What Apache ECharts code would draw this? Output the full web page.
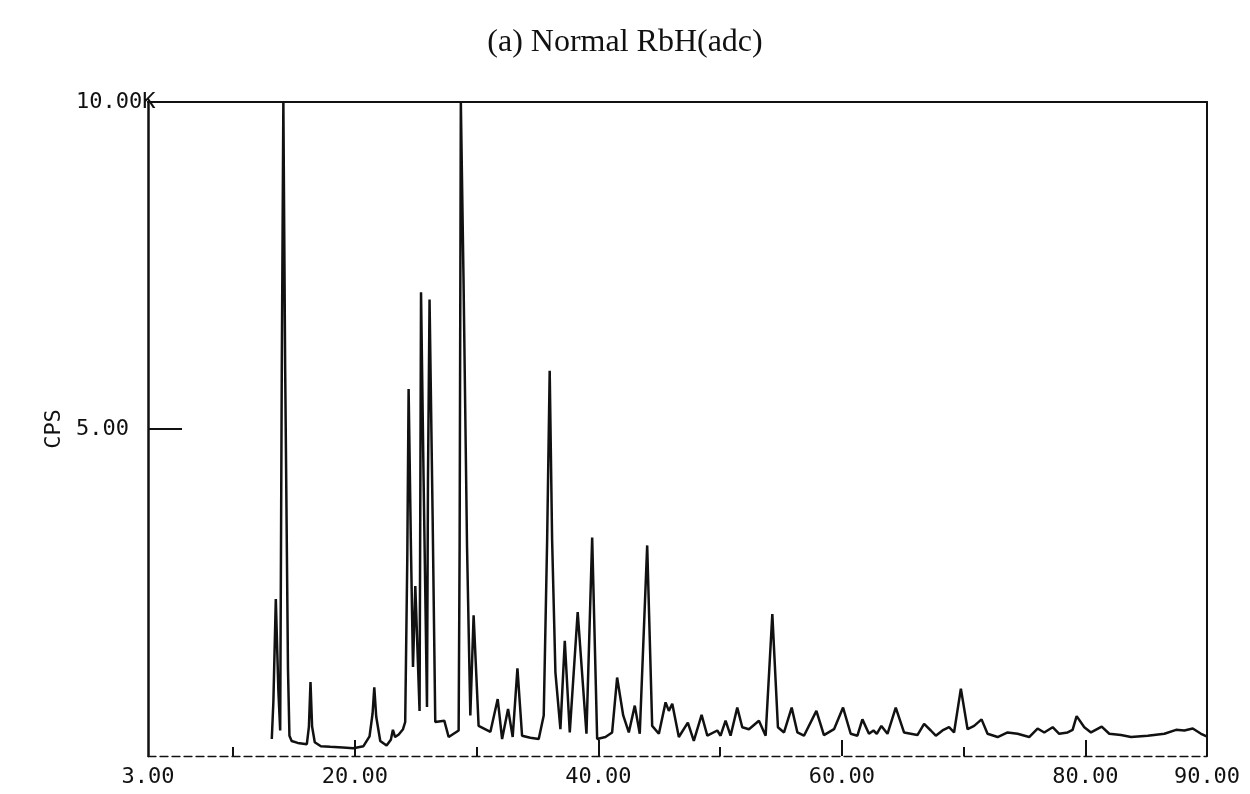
<!DOCTYPE html>
<html>
<head>
<meta charset="utf-8">
<title>(a) Normal RbH(adc)</title>
<script src="https://cdn.jsdelivr.net/npm/echarts@6/dist/echarts.min.js"></script>
<style>
  html, body { margin: 0; padding: 0; background: #fff; }
  #chart { width: 1250px; height: 794px; }
</style>
</head>
<body>
<div id="chart"></div>
<script>
// Powder diffraction trace: 2-theta (degrees) and counts per second
const twoTheta = [
  13.17, 13.30, 13.50, 13.71, 13.86, 13.99, 14.12, 14.27, 14.50, 14.62, 14.80, 15.30,
  16.05, 16.22, 16.35, 16.48, 16.70, 17.20, 17.97, 19.00, 19.86, 20.70, 21.20, 21.45,
  21.59, 21.75, 22.08, 22.60, 22.95, 23.12, 23.30, 23.60, 23.95, 24.13, 24.30, 24.41,
  24.60, 24.77, 24.96, 25.31, 25.43, 25.64, 25.92, 26.00, 26.13, 26.38, 26.60, 27.34,
  27.70, 28.52, 28.60, 28.70, 28.92, 29.21, 29.48, 29.75, 30.16, 31.13, 31.73, 32.09,
  32.58, 32.96, 33.35, 33.73, 34.41, 35.10, 35.51, 35.79, 36.00, 36.20, 36.47, 36.88,
  37.24, 37.65, 38.30, 39.02, 39.49, 39.90, 40.58, 41.13, 41.54, 42.04, 42.50, 42.99,
  43.40, 44.01, 44.42, 44.97, 45.52, 45.79, 46.07, 46.61, 47.35, 47.84, 48.48, 48.95,
  49.77, 50.04, 50.45, 50.86, 51.41, 51.82, 52.37, 53.19, 53.74, 54.29, 54.75, 55.25,
  55.88, 56.35, 56.89, 57.91, 58.53, 59.36, 60.10, 60.73, 61.28, 61.69, 62.23, 62.60,
  62.87, 63.25, 63.75, 64.43, 65.11, 65.66, 66.21, 66.76, 67.31, 67.72, 68.27, 68.81,
  69.22, 69.78, 70.33, 70.87, 71.48, 71.97, 72.80, 73.62, 74.44, 75.39, 76.08, 76.63,
  77.32, 77.86, 78.55, 78.96, 79.29, 79.92, 80.47, 81.35, 81.97, 82.93, 83.76, 85.13,
  86.50, 87.46, 88.14, 88.83, 89.51, 89.84, 90.00
];
const cps = [
   260,  830, 2400, 1000,  390, 5900, 10000, 5900, 1330,  310,  230,  200,
   180,  450, 1130,  450,  210,  150,  140,  130,  120,  150,  300,  650,
  1050,  600,  230,  160,  250,  400,  290,  330,  410,  520, 3000, 5610,
  3200, 1360, 2600,  690, 7090, 4240,  750, 4200, 6980, 3700,  520,  540,
   290,  390, 3200, 10000, 7300, 3200,  620, 2150,  460,  370,  870,  260,
   720,  290, 1340,  310,  280,  260,  620, 3300, 5890, 3300, 1280,  410,
  1760,  360, 2200,  340, 3340,  260,  290,  360, 1200,  620,  360,  770,
   340, 3220,  460,  340,  820,  690,  800,  290,  510,  230,  630,  310,
   390,  310,  540,  310,  740,  440,  410,  540,  310, 2170,  440,  360,
   740,  360,  310,  690,  320,  410,  740,  340,  310,  560,  340,  390,
   340,  460,  340,  740,  360,  340,  320,  490,  390,  310,  390,  440,
   360, 1030,  410,  460,  560,  340,  290,  360,  340,  290,  420,  360,
   440,  340,  360,  400,  610,  440,  360,  450,  340,  320,  290,  310,
   340,  400,  390,  420,  340,  310,  300
];

// Axis ticks and their labels
const xTickValues = [3, 20, 40, 60, 80, 90];
const xTickLabels = ['3.00', '20.00', '40.00', '60.00', '80.00', '90.00'];
const xMajorTicks = [20, 40, 60, 80];
const xMinorTicks = [10, 30, 50, 70];
const yTickValues = [5000, 10000];
const yTickLabels = ['5.00', '10.00K'];

const monoFont = '"DejaVu Sans Mono", "Liberation Mono", monospace';
const ink = '#111';

const chart = echarts.init(document.getElementById('chart'), null, { renderer: 'canvas' });

chart.setOption({
  animation: false,
  backgroundColor: '#fff',
  title: {
    text: '(a) Normal RbH(adc)',
    left: 'center',
    top: 22,
    textStyle: {
      fontFamily: '"Liberation Serif", "DejaVu Serif", serif',
      fontWeight: 'normal',
      fontSize: 32,
      color: ink
    }
  },
  grid: { left: 148, right: 43, top: 102, bottom: 38, containLabel: false },
  xAxis: [
    {
      type: 'value', min: 3, max: 90, position: 'bottom',
      axisLine: { show: true, lineStyle: { color: ink, width: 1.3, type: [8, 4] } },
      axisTick: { show: true, inside: true, length: 16, customValues: xMajorTicks,
                  lineStyle: { color: ink, width: 2 } },
      axisLabel: {
        show: true, customValues: xTickValues, margin: 10,
        fontFamily: monoFont, fontSize: 22, color: ink,
        formatter: v => xTickLabels[xTickValues.indexOf(v)] ?? ''
      },
      splitLine: { show: false }
    },
    {
      type: 'value', min: 3, max: 90, position: 'bottom',
      axisLine: { show: false },
      axisTick: { show: true, inside: true, length: 9, customValues: xMinorTicks,
                  lineStyle: { color: ink, width: 2 } },
      axisLabel: { show: false },
      splitLine: { show: false }
    },
    {
      type: 'value', min: 3, max: 90, position: 'top',
      axisLine: { show: true, lineStyle: { color: ink, width: 2 } },
      axisTick: { show: false },
      axisLabel: { show: false },
      splitLine: { show: false }
    }
  ],
  yAxis: [
    {
      type: 'value', min: 0, max: 10000, position: 'left',
      name: 'CPS', nameLocation: 'middle', nameGap: 36,
      nameTextStyle: { fontFamily: monoFont, fontSize: 22, color: ink },
      axisLine: { show: true, lineStyle: { color: ink, width: 2.5 } },
      axisTick: { show: true, inside: true, length: 34, customValues: [5000],
                  lineStyle: { color: ink, width: 2 } },
      axisLabel: {
        show: true, customValues: yTickValues, align: 'left', margin: 72,
        fontFamily: monoFont, fontSize: 22, color: ink,
        formatter: v => yTickLabels[yTickValues.indexOf(v)] ?? ''
      },
      splitLine: { show: false }
    },
    {
      type: 'value', min: 0, max: 10000, position: 'right',
      axisLine: { show: true, lineStyle: { color: ink, width: 2 } },
      axisTick: { show: false },
      axisLabel: { show: false },
      splitLine: { show: false }
    }
  ],
  series: [
    {
      type: 'line',
      xAxisIndex: 0,
      yAxisIndex: 0,
      showSymbol: false,
      symbol: 'none',
      lineStyle: { color: ink, width: 2.5 },
      data: twoTheta.map((t, i) => [t, cps[i]])
    }
  ]
});
</script>
</body>
</html>
